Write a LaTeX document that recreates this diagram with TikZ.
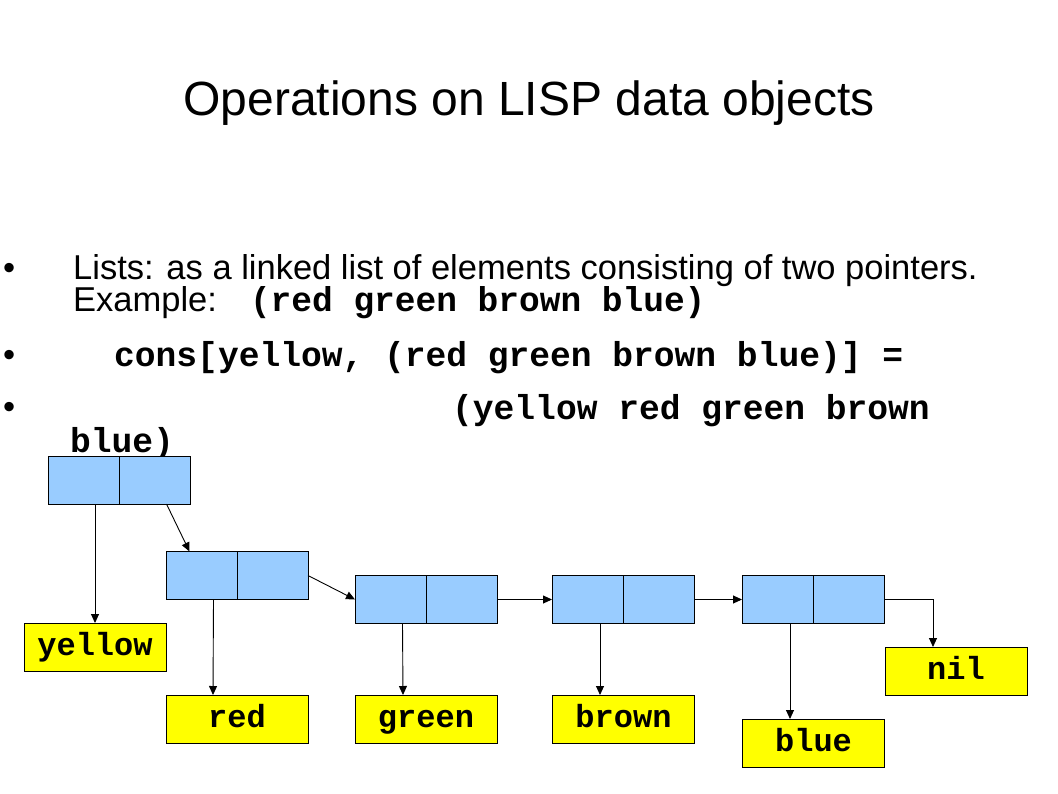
\documentclass[tikz,border=0pt]{standalone}
\usepackage{fontspec}
\setmainfont{Liberation Sans}
\setmonofont{Liberation Mono}
\usepackage{tikz}
\usetikzlibrary{arrows.meta}
\usetikzlibrary{positioning}

\definecolor{cellblue}{RGB}{153,204,255}
\definecolor{atomyellow}{RGB}{255,255,0}

\begin{document}
\begin{tikzpicture}[x=1pt,y=-1pt,
  cell/.style={draw,fill=cellblue,line width=0.9pt,minimum width=71pt,minimum height=48pt,inner sep=0pt,outer sep=0pt},
  atom/.style={draw,fill=atomyellow,line width=0.9pt,minimum width=142pt,text height=32pt,text depth=16pt,inner sep=0pt,outer sep=0pt,font=\fontsize{32}{32}\selectfont\ttfamily\bfseries},
  ptr/.style={-{Triangle[length=9pt,width=8pt]},line width=0.9pt},
  bodytext/.style={anchor=base west,inner sep=0pt,font=\fontsize{34.5}{34}\selectfont},
  codetext/.style={anchor=base west,inner sep=0pt,font=\fontsize{34.6}{34}\selectfont\ttfamily\bfseries}]
\useasboundingbox (0,0) rectangle (1058,793);
\fill[white] (0,0) rectangle (1058,793);

\node (title) [anchor=base,inner sep=0pt,font=\fontsize{48}{48}\selectfont] at (529,115) {Operations on LISP data objects};

\node (bul1) [bodytext] at (3,279) {•};
\node (lists) [bodytext] at (73,279) {Lists: as a linked list of elements consisting of two pointers.};
\node (example) [bodytext] at (73,311) {Example:\hspace{33pt}\texttt{\bfseries(red green brown blue)}};
\node (bul2) [bodytext] at (3,366) {•};
\node (cons) [codetext] at (114,366) {cons[yellow, (red green brown blue)] =};
\node (bul3) [bodytext] at (3,418) {•};
\node (result) [codetext] at (452,419) {(yellow red green brown};
\node (result2) [codetext] at (70,452) {blue)};

\node (c1l) [cell] at (83.5,480) {};
\node (c1r) [cell,right=0pt of c1l] {};
\node (c2l) [cell] at (201.5,575.5) {};
\node (c2r) [cell,right=0pt of c2l] {};
\node (c3l) [cell] at (390.5,599.5) {};
\node (c3r) [cell,right=0pt of c3l] {};
\node (c4l) [cell] at (587.5,599.5) {};
\node (c4r) [cell,right=0pt of c4l] {};
\node (c5l) [cell] at (777.5,599.5) {};
\node (c5r) [cell,right=0pt of c5l] {};

\node (yellow) [atom] at (95,647) {yellow};
\node (red) [atom] at (237,719) {red};
\node (green) [atom] at (426,719) {green};
\node (brown) [atom] at (623.5,719) {brown};
\node (blue) [atom] at (813.5,743) {blue};
\node (nil) [atom] at (956,671) {nil};

\draw [ptr] ([xshift=11.5pt]c1l.south) -- (yellow.north);
\draw [ptr] ([xshift=12pt]c1r.south) -- ([xshift=-12pt]c2l.north);
\draw [ptr] ([xshift=12pt]c2l.south) -- ([xshift=-24pt]red.north);
\draw [ptr] (c2r.east) -- (c3l.west);
\draw [ptr] ([xshift=12pt]c3l.south) -- ([xshift=-23pt]green.north);
\draw [ptr] (c3r.east) -- (c4l.west);
\draw [ptr] ([xshift=12.5pt]c4l.south) -- ([xshift=-23.5pt]brown.north);
\draw [ptr] (c4r.east) -- (c5l.west);
\draw [ptr] ([xshift=12.5pt]c5l.south) -- ([xshift=-23.5pt]blue.north);
\draw [ptr] (c5r.east) -| ([xshift=-23pt]nil.north);
\end{tikzpicture}
\end{document}
